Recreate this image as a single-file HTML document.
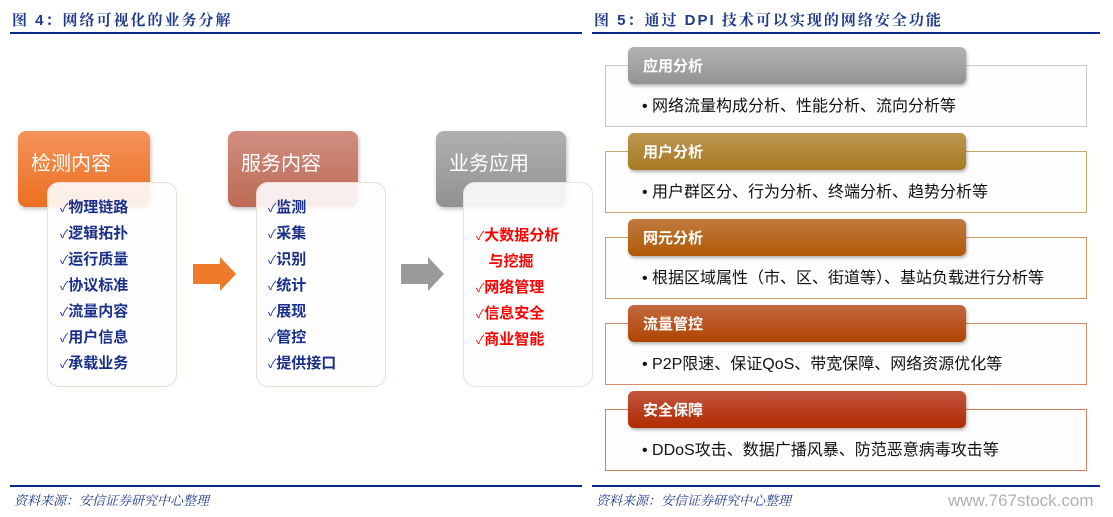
<!DOCTYPE html>
<html><head><meta charset="utf-8"><style>
*{margin:0;padding:0;box-sizing:border-box}
body{width:1113px;height:517px;background:#fff;position:relative;overflow:hidden;font-family:"Liberation Sans","Noto Sans CJK SC",sans-serif}
.a{position:absolute}
.t{color:#1f3a8a;font-weight:bold;font-size:15px;font-family:"Liberation Sans","Noto Serif CJK SC",serif;letter-spacing:2px}
.ln{background:#0a2a8a;height:2px}
.src{font-style:italic;color:#1f3a8a;font-size:13px;font-family:"Liberation Serif","Noto Serif CJK SC",serif}
.hd{border-radius:8px;color:#fff;font-size:20px;padding:16px 0 0 13px;box-shadow:1px 2px 4px rgba(0,0,0,.25)}
.ct{border-radius:12px;background:rgba(253,253,253,.9);border:1px solid #f0dcd0;font-weight:bold;font-size:15px;line-height:26px}
.ct div{white-space:nowrap}
.ck{font-size:12px;font-weight:normal}
.bx{border:1px solid;background:#fdfdfd;font-size:16px;color:#111;padding:26px 0 0 36px;white-space:nowrap}
.tb{border-radius:6px;color:#fff;font-weight:bold;font-size:15px;padding:8px 0 0 15px;height:37px;width:338px;box-shadow:1px 2px 3px rgba(0,0,0,.3)}
</style></head><body>
<div class="a t" style="left:12px;top:9px">图 4：网络可视化的业务分解</div>
<div class="a t" style="left:594px;top:9px">图 5：通过 DPI 技术可以实现的网络安全功能</div>
<div class="a ln" style="left:10px;top:32px;width:572px"></div>
<div class="a ln" style="left:592px;top:32px;width:508px"></div>

<div class="a hd" style="left:18px;top:131px;width:132px;height:76px;background:linear-gradient(#f3935a,#ec6f20)">检测内容</div>
<div class="a ct" style="left:47px;top:182px;width:130px;height:205px;color:#1a2f8a;padding:12px 0 0 12px"><div><span class="ck">✓</span>物理链路</div><div><span class="ck">✓</span>逻辑拓扑</div><div><span class="ck">✓</span>运行质量</div><div><span class="ck">✓</span>协议标准</div><div><span class="ck">✓</span>流量内容</div><div><span class="ck">✓</span>用户信息</div><div><span class="ck">✓</span>承载业务</div></div>

<div class="a hd" style="left:228px;top:131px;width:130px;height:76px;background:linear-gradient(#d08e80,#bd6a55)">服务内容</div>
<div class="a ct" style="left:256px;top:182px;width:130px;height:205px;color:#1a2f8a;padding:12px 0 0 11px"><div><span class="ck">✓</span>监测</div><div><span class="ck">✓</span>采集</div><div><span class="ck">✓</span>识别</div><div><span class="ck">✓</span>统计</div><div><span class="ck">✓</span>展现</div><div><span class="ck">✓</span>管控</div><div><span class="ck">✓</span>提供接口</div></div>

<div class="a hd" style="left:436px;top:131px;width:130px;height:76px;background:linear-gradient(#b0b0b0,#929292)">业务应用</div>
<div class="a ct" style="left:463px;top:182px;width:130px;height:205px;color:#f00;border-color:#e4e4e4;padding:40px 0 0 12px"><div><span class="ck">✓</span>大数据分析</div><div>&nbsp;&nbsp;&nbsp;与挖掘</div><div><span class="ck">✓</span>网络管理</div><div><span class="ck">✓</span>信息安全</div><div><span class="ck">✓</span>商业智能</div></div>

<svg class="a" style="left:190px;top:255px" width="50" height="40"><polygon points="3,9 30,9 30,2 46,19 30,36 30,29 3,29" fill="#ef7a2a"/></svg>
<svg class="a" style="left:398px;top:255px" width="50" height="40"><polygon points="3,9 30,9 30,2 46,19 30,36 30,29 3,29" fill="#9a9a9a"/></svg>

<div class="a bx" style="left:605px;top:65px;width:482px;height:62px;border-color:#c8c8c8">• 网络流量构成分析、性能分析、流向分析等</div>
<div class="a tb" style="left:628px;top:47px;background:linear-gradient(#b2b2b2,#939393)">应用分析</div>
<div class="a bx" style="left:605px;top:151px;width:482px;height:62px;border-color:#c9a66a">• 用户群区分、行为分析、终端分析、趋势分析等</div>
<div class="a tb" style="left:628px;top:133px;background:linear-gradient(#bd9550,#a77a20)">用户分析</div>
<div class="a bx" style="left:605px;top:237px;width:482px;height:62px;border-color:#d39c60">• 根据区域属性（市、区、街道等）、基站负载进行分析等</div>
<div class="a tb" style="left:628px;top:219px;background:linear-gradient(#c07a40,#b05a05)">网元分析</div>
<div class="a bx" style="left:605px;top:323px;width:482px;height:62px;border-color:#d88a60">• P2P限速、保证QoS、带宽保障、网络资源优化等</div>
<div class="a tb" style="left:628px;top:305px;background:linear-gradient(#c26840,#b04400)">流量管控</div>
<div class="a bx" style="left:605px;top:409px;width:482px;height:62px;border-color:#d08060">• DDoS攻击、数据广播风暴、防范恶意病毒攻击等</div>
<div class="a tb" style="left:628px;top:391px;background:linear-gradient(#c25540,#b02c00)">安全保障</div>

<div class="a ln" style="left:10px;top:485px;width:572px"></div>
<div class="a ln" style="left:592px;top:485px;width:508px"></div>
<div class="a src" style="left:14px;top:490px">资料来源：安信证券研究中心整理</div>
<div class="a src" style="left:596px;top:490px">资料来源：安信证券研究中心整理</div>
<div class="a" style="left:948px;top:491px;color:#b0b0b0;font-size:17px">www.767stock.com</div>
</body></html>
